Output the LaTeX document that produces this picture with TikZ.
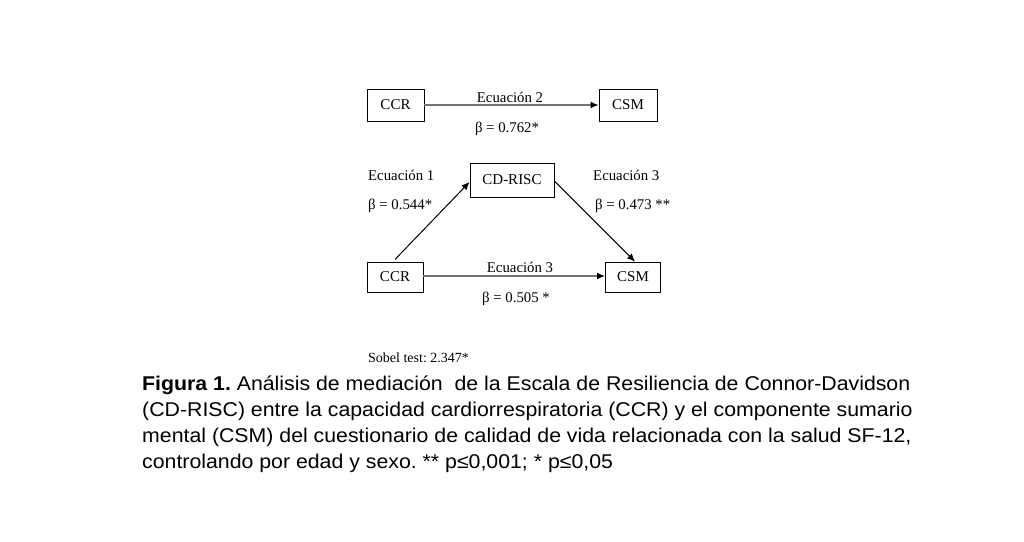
\documentclass[tikz,border=0pt]{standalone}
\usepackage{fontspec}
\usepackage{graphicx}
\setmainfont{Liberation Serif}
\newfontfamily\capfont{Liberation Sans}
\usetikzlibrary{arrows.meta}
\frenchspacing
\newcommand{\capline}[1]{\scalebox{1.07}[1]{#1}}
\begin{document}
\begin{tikzpicture}[x=1pt,y=-1pt,
  box/.style={draw, line width=0.9pt, inner sep=0pt, font=\fontsize{15}{17}\selectfont},
  lbl/.style={inner sep=0pt, font=\fontsize{14.8}{17}\selectfont},
  grayarrow/.style={draw=black!55, line width=1.4pt, -{Latex[length=8pt,width=7pt,black]}},
  blackarrow/.style={draw=black, line width=1pt, -{Latex[length=8pt,width=7pt]}},
  captxt/.style={inner sep=0pt, anchor=base west, font=\capfont\fontsize{19.9}{24}\selectfont}]
\useasboundingbox (0,0) rectangle (1024,541);
\fill[white] (0,0) rectangle (1024,541);
% top row
\node[box, minimum width=57pt, minimum height=32pt] (ccrt) at (395.5,105) {CCR};
\node[box, minimum width=58pt, minimum height=32pt] (csmt) at (628,105) {CSM};
\draw[grayarrow] (ccrt.east) -- (csmt.west);
\node[lbl] (eq2) at (510,97) {Ecuación 2};
\node[lbl] (b2) at (507,129) {β = 0.762*};
% triangle
\node[box, minimum width=84pt, minimum height=34pt] (cd) at (512,180) {CD-RISC};
\node[box, minimum width=56pt, minimum height=30pt] (ccrb) at (395,277) {CCR};
\node[box, minimum width=55pt, minimum height=30pt] (csmb) at (633,277) {CSM};
\draw[blackarrow, shorten <=3pt] ([xshift=-2pt]ccrb.north) -- ([yshift=-2pt]cd.west);
\draw[blackarrow] ([yshift=-1pt]cd.east) -- ([xshift=2pt]csmb.north);
\draw[grayarrow] ([yshift=1pt]ccrb.east) -- ([yshift=1pt]csmb.west);
\node[lbl, anchor=west] (eq1) at (368,175) {Ecuación 1};
\node[lbl, anchor=west] (b1) at (368,206) {β = 0.544*};
\node[lbl, anchor=west] (eq3a) at (593,175) {Ecuación 3};
\node[lbl, anchor=west] (b3a) at (595,206) {β = 0.473 **};
\node[lbl] (eq3b) at (520,267) {Ecuación 3};
\node[lbl] (b3b) at (516,299) {β = 0.505 *};
\node[inner sep=0pt, anchor=west, font=\fontsize{14}{16}\selectfont] (sobel) at (368,358) {Sobel test: 2.347*};
% caption
\node[captxt] (c1) at (142,390) {\capline{\textbf{Figura 1.} Análisis de mediación\ \ de la Escala de Resiliencia de Connor-Davidson}};
\node[captxt] (c2) at (142,416) {\capline{(CD-RISC) entre la capacidad cardiorrespiratoria (CCR) y el componente sumario}};
\node[captxt] (c3) at (142,442) {\capline{mental (CSM) del cuestionario de calidad de vida relacionada con la salud SF-12,}};
\node[captxt] (c4) at (142,468) {\capline{controlando por edad y sexo. ** p≤0,001; * p≤0,05}};
\end{tikzpicture}
\end{document}
